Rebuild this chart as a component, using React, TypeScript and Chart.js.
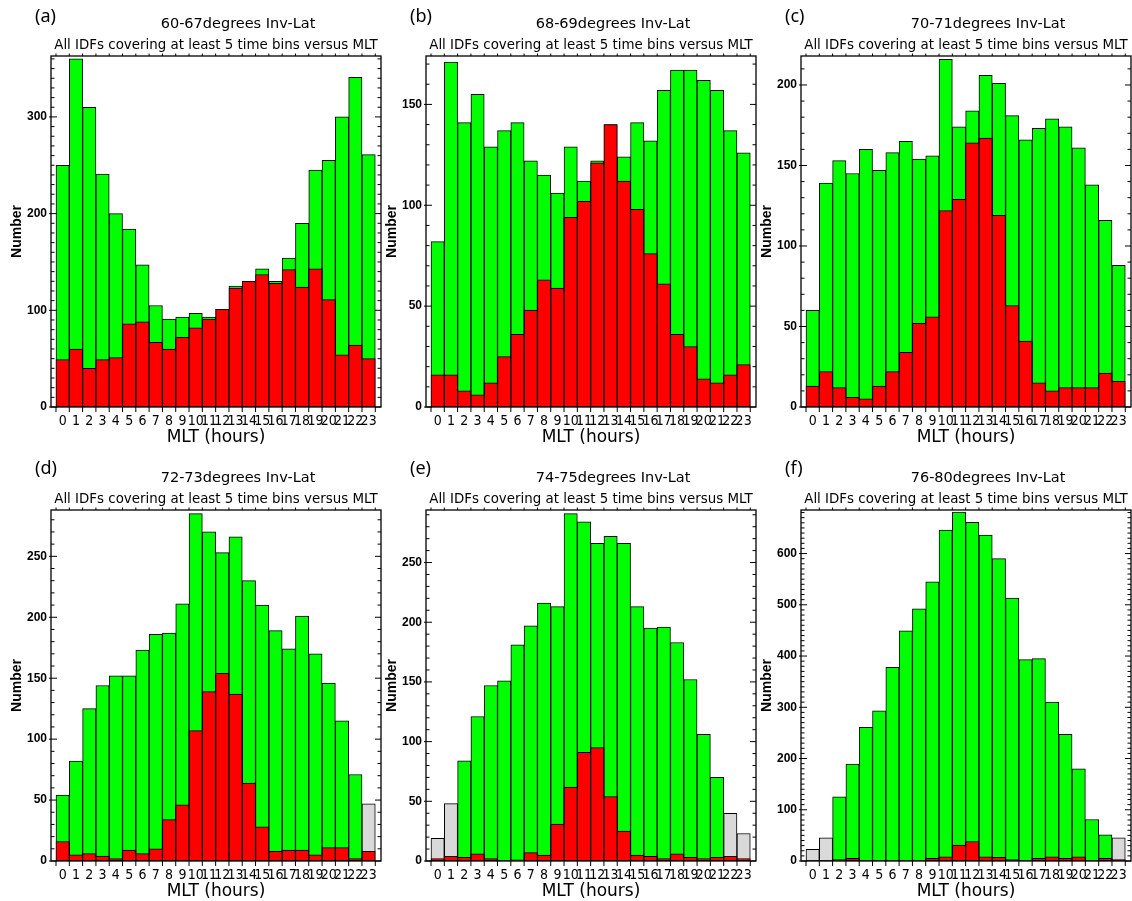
import React, { useEffect, useRef } from "react";
import { Chart, registerables } from "chart.js";

Chart.register(...registerables);

const hours = [0, 1, 2, 3, 4, 5, 6, 7, 8, 9, 10, 11, 12, 13, 14, 15, 16, 17, 18, 19, 20, 21, 22, 23];

const panelLetters = ["(a)", "(b)", "(c)", "(d)", "(e)", "(f)"];
const panelTitles = [
  "60-67degrees Inv-Lat",
  "68-69degrees Inv-Lat",
  "70-71degrees Inv-Lat",
  "72-73degrees Inv-Lat",
  "74-75degrees Inv-Lat",
  "76-80degrees Inv-Lat",
];
const subtitleText = "All IDFs covering at least 5 time bins versus MLT";
const xTitle = "MLT (hours)";
const yTitle = "Number";

// All IDFs (green / grey bars)
const totalA = [250, 360, 310, 241, 200, 184, 147, 105, 91, 93, 97, 93, 101, 125, 130, 143, 130, 154, 190, 245, 255, 300, 341, 261];
const totalB = [82, 171, 141, 155, 129, 137, 141, 122, 115, 106, 129, 112, 122, 140, 124, 141, 132, 157, 167, 167, 162, 157, 137, 126];
const totalC = [60, 139, 153, 145, 160, 147, 158, 165, 154, 156, 216, 174, 184, 206, 201, 181, 166, 173, 179, 174, 161, 138, 116, 88];
const totalD = [54, 82, 125, 144, 152, 152, 173, 186, 187, 211, 285, 270, 253, 266, 230, 210, 189, 174, 201, 170, 146, 115, 71, 47];
const totalE = [19, 48, 84, 121, 147, 151, 181, 197, 216, 213, 291, 284, 266, 272, 266, 213, 195, 196, 183, 152, 106, 70, 40, 23];
const totalF = [23, 45, 125, 189, 261, 293, 378, 449, 492, 545, 646, 681, 661, 636, 590, 513, 393, 395, 310, 247, 180, 81, 51, 45];

// Subset (red bars)
const redA = [49, 60, 40, 49, 51, 86, 88, 67, 60, 72, 82, 91, 101, 123, 130, 137, 128, 142, 124, 143, 111, 54, 64, 50];
const redB = [16, 16, 8, 6, 12, 25, 36, 48, 63, 59, 94, 102, 121, 140, 112, 98, 76, 61, 36, 30, 14, 12, 16, 21];
const redC = [13, 22, 12, 6, 5, 13, 22, 34, 52, 56, 122, 129, 164, 167, 119, 63, 41, 15, 10, 12, 12, 12, 21, 16];
const redD = [16, 5, 6, 4, 2, 9, 6, 10, 34, 46, 107, 139, 154, 137, 64, 28, 8, 9, 9, 5, 11, 11, 2, 8];
const redE = [2, 4, 3, 6, 2, 0, 1, 7, 5, 31, 62, 91, 95, 54, 25, 5, 4, 2, 6, 3, 2, 3, 4, 2];
const redF = [0, 0, 3, 5, 1, 0, 0, 0, 0, 5, 8, 31, 38, 8, 7, 3, 1, 5, 8, 5, 8, 0, 5, 3];

// hours whose bar is drawn grey
const greyA: number[] = [];
const greyB: number[] = [];
const greyC: number[] = [];
const greyD = [23];
const greyE = [0, 1, 22, 23];
const greyF = [0, 1, 23];

const yMaxes = [363, 174, 218, 288, 294, 685];
const yMajorSteps = [100, 50, 50, 50, 50, 100];
const yMinorSteps = [10, 10, 10, 10, 10, 10];
const xMin = -0.876;
const xMax = 23.93;

const totals = [totalA, totalB, totalC, totalD, totalE, totalF];
const reds = [redA, redB, redC, redD, redE, redF];
const greys = [greyA, greyB, greyC, greyD, greyE, greyF];

const GREEN = "#00ff00";
const RED = "#ff0000";
const GREY = "#d9d9d9";

const CW = 384;
const CH = 454;

const framePlugin = {
  id: "frame",
  afterDraw(chart: any, _args: any, opts: any) {
    const { ctx, chartArea, scales } = chart;
    const { left, top, right, bottom } = chartArea;
    const x = scales.x;
    const y = scales.y;
    ctx.save();
    ctx.strokeStyle = "#000";
    ctx.lineWidth = 1.3;
    ctx.strokeRect(left, top, right - left, bottom - top);
    ctx.lineWidth = 1;
    const line = (x1: number, y1: number, x2: number, y2: number) => {
      ctx.beginPath();
      ctx.moveTo(x1, y1);
      ctx.lineTo(x2, y2);
      ctx.stroke();
    };
    for (let v = 0; v <= y.max + 1e-9; v += opts.minor) {
      const py = y.getPixelForValue(v);
      const major = Math.abs(v % opts.major) < 1e-9;
      const len = major ? 6 : 3.5;
      line(left - (major ? 2 : 0), py, left + len, py);
      line(right - len, py, right, py);
    }
    for (let i = 0; i <= hours.length; i++) {
      const px = x.getPixelForValue(i - 0.5);
      line(px, bottom, px, bottom + 5);
      line(px, top, px, top - 2.5);
    }
    ctx.fillStyle = "#000";
    ctx.textBaseline = "middle";
    ctx.textAlign = "left";
    ctx.font = '18px "Noto Sans"';
    ctx.fillText(opts.letter, 35, opts.letterY);
    ctx.textAlign = "center";
    ctx.font = '14.5px "DejaVu Sans"';
    ctx.fillText(opts.title, (left + right) / 2 + 22, opts.titleY);
    ctx.font = '13.4px "DejaVu Sans"';
    ctx.fillText(subtitleText, (left + right) / 2, opts.titleY + 21);
    ctx.restore();
  },
};

function buildConfig(idx: number): any {
  const row = Math.floor(idx / 3);
  const total = totals[idx];
  const red = reds[idx];
  const grey = greys[idx];
  const totalColors = hours.map((h) => (grey.includes(h) ? GREY : GREEN));
  return {
    type: "bar",
    data: {
      datasets: [
        {
          label: "subset",
          data: hours.map((h, i) => ({ x: h, y: red[i] })),
          backgroundColor: RED,
          borderColor: "#000",
          borderWidth: 1,
          borderSkipped: false,
          grouped: false,
          order: 0,
          barPercentage: 1,
          categoryPercentage: 1,
        },
        {
          label: "all",
          data: hours.map((h, i) => ({ x: h, y: total[i] })),
          backgroundColor: totalColors,
          borderColor: "#000",
          borderWidth: 1,
          borderSkipped: false,
          grouped: false,
          order: 1,
          barPercentage: 1,
          categoryPercentage: 1,
        },
      ],
    },
    options: {
      responsive: false,
      animation: false,
      events: [],
      layout: { padding: { left: 0, top: 56, right: CW - 381, bottom: 0 } },
      plugins: {
        legend: { display: false },
        tooltip: { enabled: false },
        title: { display: false },
        frame: {
          letter: panelLetters[idx],
          title: panelTitles[idx],
          letterY: row === 0 ? 17 : 14.5,
          titleY: 24.5,
          major: yMajorSteps[idx],
          minor: yMinorSteps[idx],
        },
      },
      scales: {
        x: {
          type: "linear",
          min: xMin,
          max: xMax,
          offset: false,
          grid: { display: false, drawTicks: false, offset: false },
          border: { display: false },
          ticks: {
            stepSize: 1,
            autoSkip: false,
            maxRotation: 0,
            minRotation: 0,
            includeBounds: false,
            padding: 6,
            color: "#000",
            font: { family: '"Liberation Sans Narrow", "DejaVu Sans Condensed", "Liberation Sans"', size: 14 },
          },
          title: {
            display: true,
            text: xTitle,
            color: "#000",
            font: { family: '"DejaVu Sans"', size: 17 },
            padding: { top: 0, bottom: 6 },
          },
          afterFit: (scale: any) => {
            scale.height = CH - 407;
          },
        },
        y: {
          type: "linear",
          min: 0,
          max: yMaxes[idx],
          grid: { display: false, drawTicks: false },
          border: { display: false },
          ticks: {
            stepSize: yMajorSteps[idx],
            includeBounds: false,
            padding: 4,
            color: "#000",
            font: { family: '"Liberation Sans"', size: 12, weight: "bold" },
          },
          title: {
            display: true,
            text: yTitle,
            color: "#000",
            font: { family: '"Liberation Sans"', size: 14, weight: "bold" },
            padding: { top: 9, bottom: 0 },
          },
          afterFit: (scale: any) => {
            scale.width = 51;
          },
        },
      },
    },
    plugins: [framePlugin],
  };
}

function Panel({ idx }: { idx: number }) {
  const ref = useRef<HTMLCanvasElement | null>(null);
  useEffect(() => {
    if (!ref.current) return;
    const chart = new Chart(ref.current, buildConfig(idx));
    return () => chart.destroy();
  }, [idx]);
  const col = idx % 3;
  const row = Math.floor(idx / 3);
  return (
    <canvas
      ref={ref}
      width={CW}
      height={CH}
      style={{ position: "absolute", left: col * 375, top: row * 454, width: CW, height: CH }}
    />
  );
}

export default function App() {
  return (
    <div
      style={{
        position: "absolute",
        left: 0,
        top: 0,
        width: 1132,
        height: 901,
        overflow: "hidden",
        background: "#fff",
      }}
    >
      {[0, 1, 2, 3, 4, 5].map((i) => (
        <Panel key={i} idx={i} />
      ))}
    </div>
  );
}
